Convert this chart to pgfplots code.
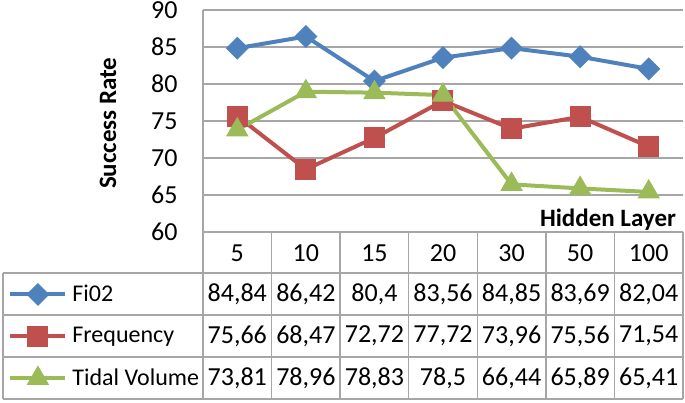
\documentclass[border=0pt]{standalone}
\usepackage{pgfplots}
\usepackage{pgfplotstable}
\pgfplotsset{compat=1.18}
\usepackage{fontspec}
\setmainfont{Carlito}

\definecolor{fiblue}{HTML}{4F81BD}
\definecolor{frred}{HTML}{C0504D}
\definecolor{tvgreen}{HTML}{9BBB59}
\definecolor{gridgray}{HTML}{A6A6A6}

% hidden layer sizes and success rates
\pgfplotstableread{
x  hl  fio   freq  tidal
1  5   84.84 75.66 73.81
2  10  86.42 68.47 78.96
3  15  80.4  72.72 78.83
4  20  83.56 77.72 78.5
5  30  84.85 73.96 66.44
6  50  83.69 75.56 65.89
7  100 82.04 71.54 65.41
}\datatable

\newcommand{\tabfont}{\fontsize{13}{15}\selectfont}

\begin{document}
\begin{tikzpicture}
\begin{axis}[
  at={(101.5pt,-116pt)}, anchor=south west,
  scale only axis, width=240pt, height=111pt,
  xmin=0.5, xmax=7.5, ymin=60, ymax=90,
  ytick={60,65,...,90}, xtick=\empty,
  axis lines*=left,
  x axis line style={draw=none},
  y axis line style={gridgray, line width=0.75pt},
  ymajorgrids,
  major grid style={gridgray, line width=0.75pt},
  ytick style={draw=none},
  /pgf/number format/assume math mode=true,
  yticklabel style={font=\tabfont, anchor=east, inner sep=0pt, xshift=-12.5pt},
  ylabel={Success Rate},
  every axis y label/.style={at={(axis description cs:-0.198,0.49)}, rotate=90, anchor=center, font=\fontsize{12.5}{14}\selectfont\bfseries},
  xlabel={Hidden Layer},
  every axis x label/.style={at={(axis description cs:1,0)}, anchor=base east, yshift=3pt, font=\fontsize{12.5}{14}\selectfont\bfseries},
  every axis plot/.append style={line width=2pt},
  legend style={at={(axis description cs:-0.40625,-0.1847)}, anchor=north west,
    draw=none, fill=none, inner sep=0pt, row sep=0pt, column sep=2.5pt,
    font=\fontsize{12}{14}\selectfont, nodes={inner sep=0pt, minimum height=21pt}},
  legend cell align=left,
  legend image code/.code={\draw[mark repeat=2,mark phase=2] plot coordinates {(0pt,0pt)(13.75pt,0pt)(27.5pt,0pt)};},
]
\addplot[color=fiblue, mark=square*, mark size=3.8pt, mark options={rotate=45, fill=fiblue, line width=0.5pt}] table[x=x, y=fio] {\datatable};
\addplot[color=frred, mark=square*, mark size=5pt, mark options={fill=frred, line width=0.5pt}] table[x=x, y=freq] {\datatable};
\addplot[color=tvgreen, mark=triangle*, mark size=6pt, mark options={fill=tvgreen, line width=0.5pt}] table[x=x, y=tidal] {\datatable};
\legend{Fi02, Frequency, Tidal Volume}
\end{axis}

% data table under the plot, in image pixels
\begin{scope}[x=0.5pt, y=-0.5pt]
  \foreach \k in {0,...,7} {
    \draw[gridgray, line width=0.75pt] ({203+480/7*\k},232) -- ({203+480/7*\k},399);
  }
  \foreach \yy in {273,315,357,399} {
    \draw[gridgray, line width=0.75pt] (3,\yy) -- (683,\yy);
  }
  \draw[gridgray, line width=0.75pt] (3,273) -- (3,399);
  \foreach \r in {0,...,6} {
    \pgfplotstablegetelem{\r}{hl}\of\datatable
    \node[font=\tabfont] at ({203+480/7*(\r+0.5)},253) {\pgfplotsretval};
    \foreach \c/\col in {0/fio,1/freq,2/tidal} {
      \pgfplotstablegetelem{\r}{\col}\of\datatable
      \node[font=\tabfont] at ({203+480/7*(\r+0.5)},{294+42*\c})
        {\pgfmathprintnumber[use comma, assume math mode=true]{\pgfplotsretval}};
    }
  }
  \pgfresetboundingbox
  \path (0,0) rectangle (685,402);
\end{scope}
\end{tikzpicture}
\end{document}
